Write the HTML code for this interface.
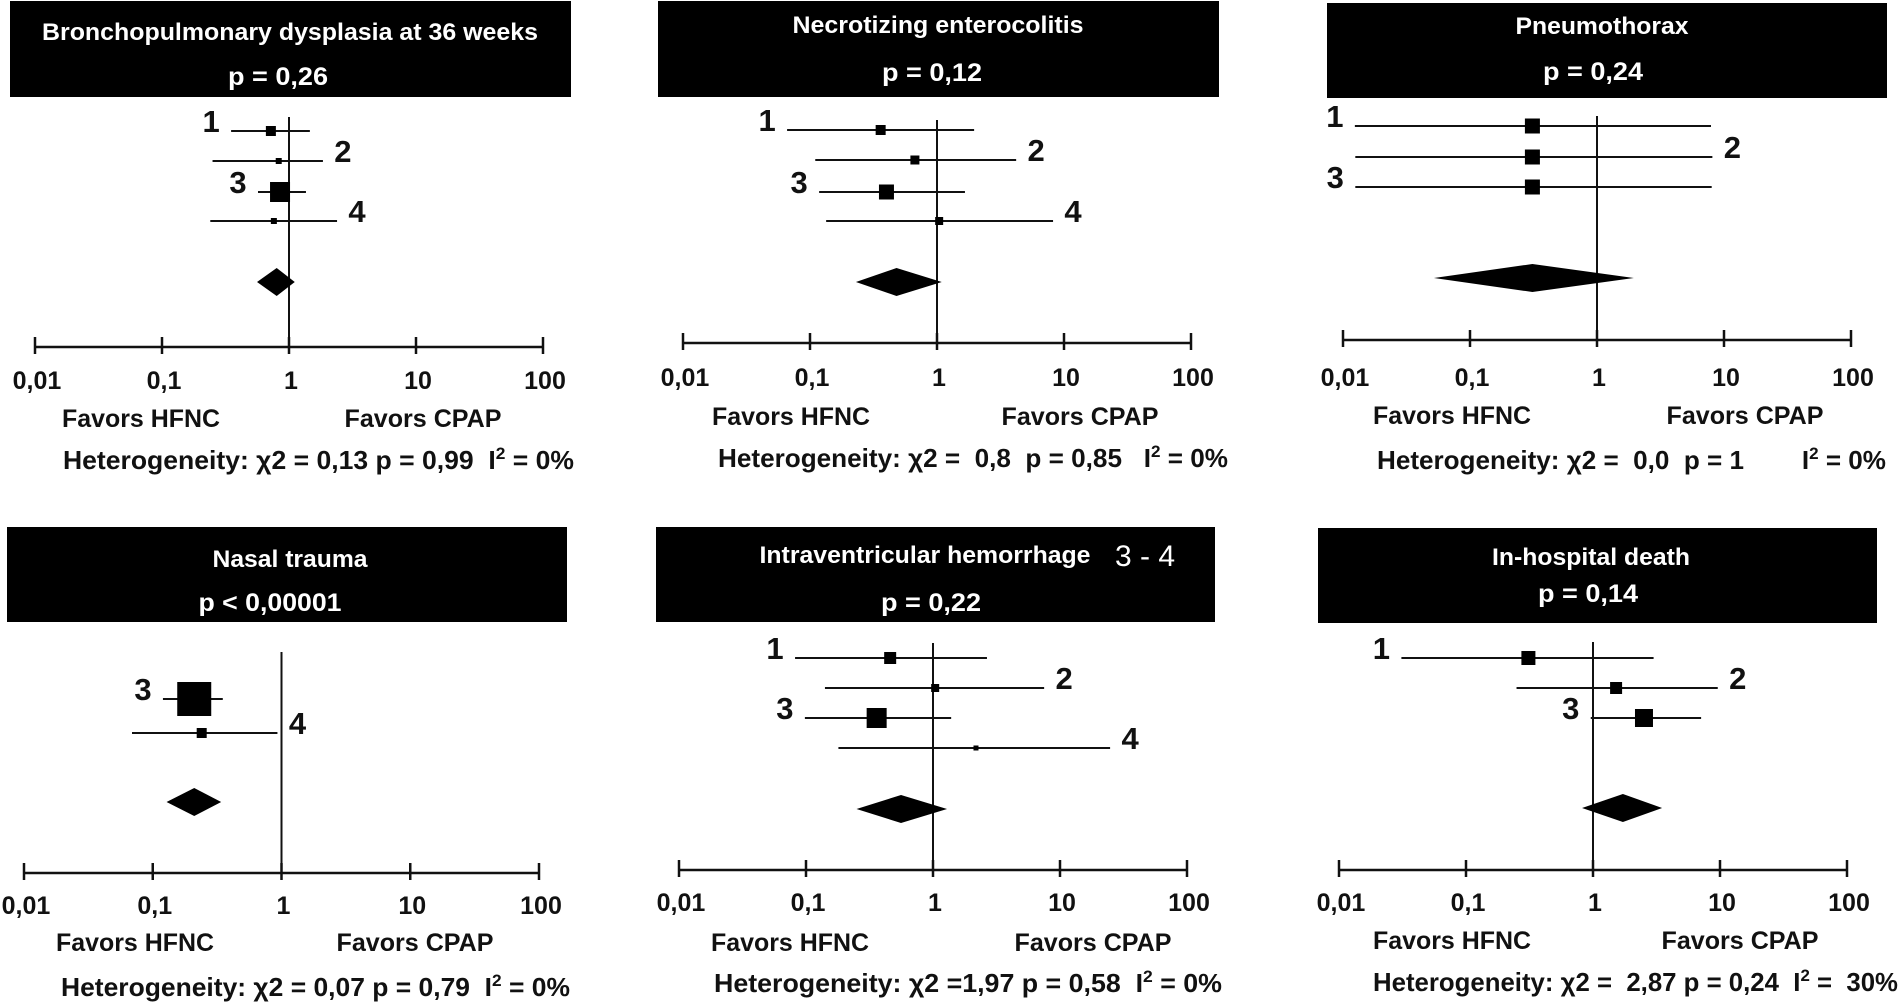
<!DOCTYPE html>
<html><head><meta charset="utf-8"><style>
html,body{margin:0;padding:0;background:#fff;}
svg{display:block;font-family:"Liberation Sans",Arial,sans-serif;font-weight:bold;}
</style></head><body>
<svg id="fig" width="1901" height="1004" viewBox="0 0 1901 1004"></svg>
<script>
// ---- data (estimates and 95% CI, log scale ratios) ----
const panelTitles = ["Bronchopulmonary dysplasia at 36 weeks","Necrotizing enterocolitis","Pneumothorax","Nasal trauma","Intraventricular hemorrhage","In-hospital death"];
const panelP = ["p = 0,26","p = 0,12","p = 0,24","p < 0,00001","p = 0,22","p = 0,14"];
const studyIds = [[1,2,3,4],[1,2,3,4],[1,2,3],[3,4],[1,2,3,4],[1,2,3]];
const estimates = [[0.72,0.83,0.85,0.76],[0.36,0.67,0.40,1.04],[0.31,0.31,0.31],[0.21,0.24],[0.46,1.04,0.36,2.18],[0.31,1.52,2.52]];
const ciLow = [[0.35,0.25,0.57,0.24],[0.066,0.11,0.118,0.134],[0.0124,0.0125,0.0125],[0.12,0.069],[0.082,0.141,0.098,0.18],[0.031,0.25,0.96]];
const ciHigh = [[1.46,1.85,1.36,2.39],[1.96,4.2,1.66,8.2],[7.9,8.1,8.0],[0.35,0.93],[2.66,7.5,1.39,24.8],[3.0,9.6,7.1]];
const weights = [[10,6,20,6],[10,9,15,8],[15,15,15],[34,10],[12,8,20,5],[14,12,18]];
const pooledEst = [0.80,0.48,0.31,0.21,0.56,1.72];
const pooledLow = [0.56,0.23,0.052,0.128,0.25,0.82];
const pooledHigh = [1.11,1.09,1.95,0.34,1.29,3.5];
const tickValues = [0.01,0.1,1,10,100];
const tickLabels = ["0,01","0,1","1","10","100"];
const labelSide = [["L","R","L","R"],["L","R","L","R"],["L","R","L"],["L","R"],["L","R","L","R"],["L","R","L"]];
const hetText = [
 ["Heterogeneity: χ2 = 0,13 p = 0,99  I","2"," = 0%"],
 ["Heterogeneity: χ2 =  0,8  p = 0,85   I","2"," = 0%"],
 ["Heterogeneity: χ2 =  0,0  p = 1        I","2"," = 0%"],
 ["Heterogeneity: χ2 = 0,07 p = 0,79  I","2"," = 0%"],
 ["Heterogeneity: χ2 =1,97 p = 0,58  I","2"," = 0%"],
 ["Heterogeneity: χ2 =  2,87 p = 0,24  I","2"," =  30%"]
];
// ---- layout ----
const L = [
 {bx:10,by:1,bw:561,bh:96,tx:290,ty:32,tw:496,px:278,py:76,pw:100,axY:347,x0:35,dec:127,vTop:117,rows:[131,161,192,221],dY:282,tlY:380,fY:418,fH:141,fC:423,hx:63,hw:511,hy:460},
 {bx:658,by:1,bw:561,bh:96,tx:938,ty:25,tw:291,px:932,py:72,pw:100,axY:343,x0:683,dec:127,vTop:120,rows:[130,160,192,221],dY:282,tlY:377,fY:416,fH:791,fC:1080,hx:718,hw:510,hy:458},
 {bx:1327,by:3,bw:560,bh:95,tx:1602,ty:26,tw:173,px:1593,py:71,pw:100,axY:340,x0:1343,dec:127,vTop:116,rows:[126,157,187],dY:278,tlY:377,fY:415,fH:1452,fC:1745,hx:1377,hw:509,hy:460},
 {bx:7,by:527,bw:560,bh:95,tx:290,ty:559,tw:155,px:270,py:602,pw:143,axY:873,x0:24,dec:128.75,vTop:652,rows:[699,733],dY:802,tlY:905,fY:942,fH:135,fC:415,hx:61,hw:509,hy:987},
 {bx:656,by:527,bw:559,bh:95,tx:925,ty:555,tw:331,px:931,py:602,pw:100,axY:870,x0:679,dec:127,vTop:643,rows:[658,688,718,748],dY:809,tlY:902,fY:942,fH:790,fC:1093,hx:714,hw:508,hy:983},
 {bx:1318,by:528,bw:559,bh:95,tx:1591,ty:557,tw:198,px:1588,py:593,pw:100,axY:870,x0:1339,dec:127,vTop:642,rows:[658,688,718],dY:808,tlY:902,fY:940,fH:1452,fC:1740,hx:1373,hw:525,hy:982}
];
const NS="http://www.w3.org/2000/svg";
const svg=document.getElementById('fig');
function mk(tag,attrs,parent,text){const e=document.createElementNS(NS,tag);for(const k in attrs)e.setAttribute(k,attrs[k]);if(text!==undefined)e.textContent=text;(parent||svg).appendChild(e);return e;}
L.forEach((c,i)=>{
 const g=mk('g',{});
 
 
 const xs=v=>c.x0+c.dec*(Math.log10(v)+2);
 const box=mk('rect',{x:c.bx,y:c.by,width:c.bw,height:c.bh,fill:'#000'},g);
 
 
 const t=mk('text',{x:c.tx,y:c.ty+8,'text-anchor':'middle',fill:'#fff','font-size':24,textLength:c.tw,lengthAdjust:'spacingAndGlyphs'},g,panelTitles[i]);
 
 
 if(i===4){const t2=mk('text',{x:1145,y:566,'text-anchor':'middle',fill:'#fff','font-size':30,'font-weight':'normal'},g,'3 - 4');
  
  }
 const p=mk('text',{x:c.px,y:c.py+9,'text-anchor':'middle',fill:'#fff','font-size':25,textLength:c.pw,lengthAdjust:'spacingAndGlyphs'},g,panelP[i]);
 
 
 // axis
 const ax=mk('line',{x1:xs(tickValues[0]),x2:xs(tickValues[tickValues.length-1]),y1:c.axY,y2:c.axY,stroke:'#111','stroke-width':2.5},g);
 
 
 tickValues.forEach((v,k)=>{
  const tk=mk('line',{x1:xs(v),x2:xs(v),y1:c.axY-10,y2:c.axY+7,stroke:'#111','stroke-width':2.5},g);
  
  
  const tl=mk('text',{x:xs(v)+2,y:c.tlY+9,'text-anchor':'middle',fill:'#111','font-size':25},g,tickLabels[k]);
  
  
 });
 const vl=mk('line',{x1:xs(1),x2:xs(1),y1:c.vTop,y2:c.axY,stroke:'#111','stroke-width':2},g);
 
 
 // studies
 estimates[i].forEach((e,k)=>{
  const y=c.rows[k];
  const lo=xs(ciLow[i][k]),hi=xs(ciHigh[i][k]),ex=xs(e),s=weights[i][k];
  const ci=mk('line',{x1:lo,x2:hi,y1:y,y2:y,stroke:'#111','stroke-width':2},g);
  
  
  const sq=mk('rect',{x:ex-s/2,y:y-s/2,width:s,height:s,fill:'#000'},g);
  
  
  const lx=labelSide[i][k]==='L'?lo-20:hi+20;
  const lb=mk('text',{x:lx,y:y+1,'text-anchor':'middle',fill:'#111','font-size':31},g,String(studyIds[i][k]));
  
  
 });
 const dl=xs(pooledLow[i]),dh=xs(pooledHigh[i]),dc=xs(pooledEst[i]),dy=c.dY;
 const dm=mk('polygon',{points:`${dl},${dy} ${dc},${dy-14} ${dh},${dy} ${dc},${dy+14}`,fill:'#000'},g);
 
 
 const fh=mk('text',{x:c.fH,y:c.fY+9,'text-anchor':'middle',fill:'#111','font-size':25,textLength:158,lengthAdjust:'spacingAndGlyphs'},g,'Favors HFNC');
 
 
 const fc=mk('text',{x:c.fC,y:c.fY+9,'text-anchor':'middle',fill:'#111','font-size':25,textLength:157,lengthAdjust:'spacingAndGlyphs'},g,'Favors CPAP');
 
 
 const ht=mk('text',{x:c.hx,y:c.hy+9,fill:'#111','font-size':26,textLength:c.hw,lengthAdjust:'spacingAndGlyphs','xml:space':'preserve'},g);
 
 
 ht.style.whiteSpace='pre';
 mk('tspan',{},ht,hetText[i][0]);
 mk('tspan',{'font-size':17,dy:-10},ht,hetText[i][1]);
 mk('tspan',{dy:10},ht,hetText[i][2]);
});
</script>
</body></html>
